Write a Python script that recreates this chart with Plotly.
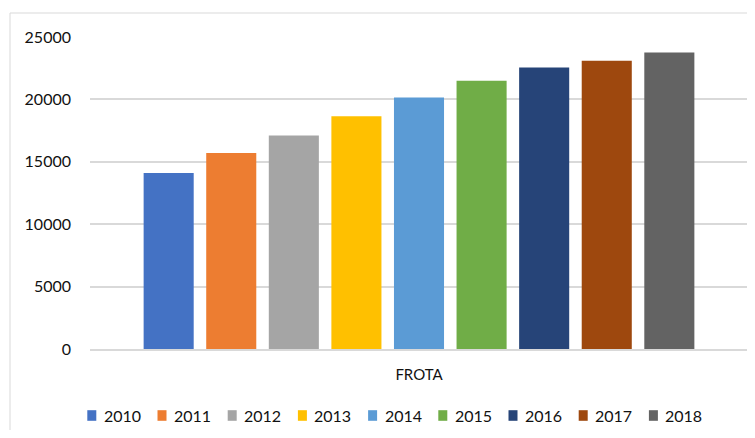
import plotly.graph_objects as go

categories = ["FROTA"]
years = ["2010", "2011", "2012", "2013", "2014", "2015", "2016", "2017", "2018"]
values = [14100, 15700, 17100, 18650, 20150, 21500, 22550, 23100, 23750]
colors = ["#4472C4", "#ED7D31", "#A5A5A5", "#FFC000", "#5B9BD5",
          "#70AD47", "#264478", "#9E480E", "#636363"]
y_ticks = [0, 5000, 10000, 15000, 20000, 25000]

# page body has an 8px margin; figure coordinates = screen coordinates - 8
OFF = 8
W, H = 747, 422
ML, MR, MT, MB = 82, 7, 29, 81
PW, PH = W - ML - MR, H - MT - MB
FONT = "Lato"
TXT = "#111111"
GRID = "#d9d9d9"


def px_x(x):
    return (x - OFF - ML) / PW


def px_y(y):
    return (H - MB - (y - OFF)) / PH


fig = go.Figure()
for yr, v, c in zip(years, values, colors):
    fig.add_trace(go.Bar(x=categories, y=[v], name=yr, marker=dict(color=c, line=dict(width=0)),
                         showlegend=False))

shapes = []
annotations = []
# chart-area border (Excel style)
shapes.append(dict(type="rect", xref="paper", yref="paper",
                   x0=px_x(10), x1=px_x(770), y0=px_y(460), y1=px_y(13),
                   line=dict(color=GRID, width=1), fillcolor="rgba(0,0,0,0)", layer="below"))

# custom legend
leg_x0, leg_pitch, leg_y = 87.3, 70.2, 415.5
for i, (yr, c) in enumerate(zip(years, colors)):
    x = leg_x0 + i * leg_pitch
    shapes.append(dict(type="rect", xref="paper", yref="paper",
                       x0=px_x(x), x1=px_x(x + 9), y0=px_y(leg_y + 5.3), y1=px_y(leg_y - 5.3),
                       line=dict(width=0), fillcolor=c))
    annotations.append(dict(xref="paper", yref="paper", x=px_x(x + 14.5), y=px_y(leg_y),
                            xanchor="left", yanchor="middle", text=yr, showarrow=False,
                            font=dict(family=FONT, size=16, color=TXT)))

fig.update_layout(
    width=W, height=H,
    margin=dict(l=ML, r=MR, t=MT, b=MB, pad=0),
    paper_bgcolor="white", plot_bgcolor="white",
    barmode="group", bargap=0.144, bargroupgap=0.2,
    showlegend=False,
    font=dict(family=FONT, size=16, color=TXT),
    shapes=shapes, annotations=annotations,
    xaxis=dict(showgrid=False, showline=True, linecolor=GRID, linewidth=1.5,
               ticks="", tickfont=dict(family=FONT, size=15, color=TXT),
               ticklabelstandoff=11),
    yaxis=dict(range=[0, 25000], tickvals=y_ticks, ticktext=[str(t) for t in y_ticks],
               showgrid=True, gridcolor=GRID, gridwidth=1.5, zeroline=False,
               showline=False, ticks="", ticklabelstandoff=18,
               tickfont=dict(family=FONT, size=16, color=TXT)),
)

fig.write_html("out.html")
